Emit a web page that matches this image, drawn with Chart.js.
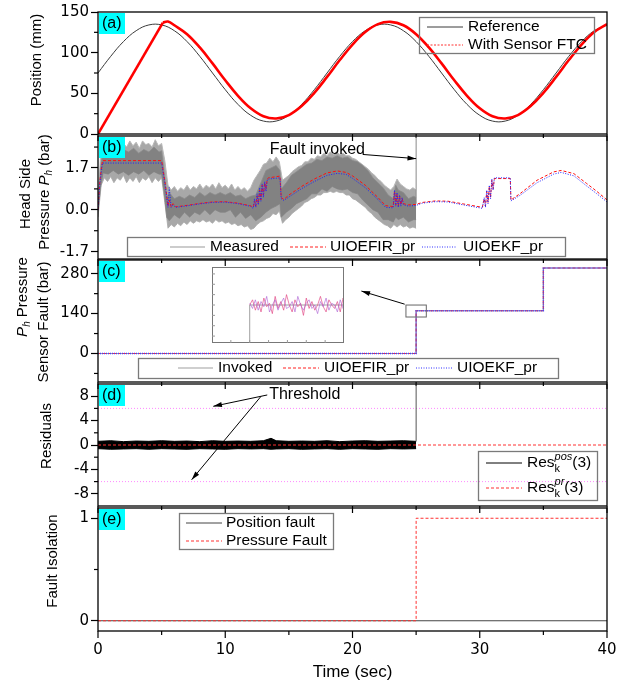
<!DOCTYPE html>
<html>
<head>
<meta charset="utf-8">
<script src="https://cdn.jsdelivr.net/npm/chart.js@4.4.1/dist/chart.umd.min.js"></script>
<style>
  html, body { margin: 0; padding: 0; background: #fff; }
  #wrap { position: relative; width: 636px; height: 687px; overflow: hidden; }
  canvas { position: absolute; left: 0; }
</style>
</head>
<body>
<div id="wrap">
  <canvas id="pa" width="636" height="145" style="top:0px"></canvas>
  <canvas id="pb" width="636" height="145" style="top:125px"></canvas>
  <canvas id="pc" width="636" height="144" style="top:249px"></canvas>
  <canvas id="inset" width="132" height="76" style="left:212px;top:267px"></canvas>
  <canvas id="pd" width="636" height="144" style="top:373px"></canvas>
  <canvas id="pe" width="636" height="190" style="top:497px"></canvas>
</div>
<script>
// ---------- time axis ----------
const timeTicks = [0, 10, 20, 30, 40];
const timeMinorTicks = [5, 15, 25, 35];

// ---------- (a) position tracking ----------
const timeA = [0,1,2,3,4,5,6,7,8,9,10,11,12,13,14,15,16,17,18,19,20,21,22,23,24,25,26,27,28,29,30,31,32,33,34,35,36,37,38,39,40];
const posReference = [75,95.5,113.6,127,134.1,134.1,127,113.6,95.5,75,54.5,36.4,23,15.9,15.9,23,36.4,54.5,75,95.5,113.6,127,134.1,134.1,127,113.6,95.5,75,54.5,36.4,23,15.9,15.9,23,36.4,54.5,75,95.5,113.6,127,134.1];
const ftcRampTime = [0, 5.1];
const ftcRamp = [0, 137];
const ftcTime = [5.1,5.5,6,7,8,9,10,11,12,13,14,15,16,17,18,19,20,21,22,23,24,25,26,27,28,29,30,31,32,33,34,35,36,37,38,39,40];
const posFtc = [137,138.2,133.7,122.7,106.4,86.8,66.1,47.0,31.6,21.9,19.1,23.3,34.3,50.6,70.2,90.9,110.0,125.4,135.1,137.9,133.7,122.7,106.4,86.8,66.1,47.0,31.6,21.9,19.1,23.3,34.3,50.6,70.2,90.9,110.0,125.4,135.1];

// ---------- (b) head side pressure ----------
// measured signal: spike envelope (outer) and dense core (inner)
const spikeTime = [0,0.25,0.5,0.75,1,1.25,1.5,1.75,2,2.25,2.5,2.75,3,3.25,3.5,3.75,4,4.25,4.5,4.75,5,5.25,5.5,5.75,6,6.25,6.5,6.75,7,7.25,7.5,7.75,8,8.25,8.5,8.75,9,9.25,9.5,9.75,10,10.25,10.5,10.75,11,11.25,11.5,11.75,12,12.25,12.5,12.75,13,13.25,13.5,13.75,14,14.25,14.5,14.75,15,15.25,15.5,15.75,16,16.25,16.5,16.75,17,17.25,17.5,17.75,18,18.25,18.5,18.75,19,19.25,19.5,19.75,20,20.25,20.5,20.75,21,21.25,21.5,21.75,22,22.25,22.5,22.75,23,23.25,23.5,23.75,24,24.25,24.5,24.75,25];
const spikeHigh = [0.3,2.7,2.8,2.6,2.75,2.55,2.85,2.6,2.7,2.55,2.8,2.6,2.75,2.5,2.8,2.65,2.7,2.55,2.85,2.6,2.7,2.0,1.0,0.8,0.95,0.75,0.9,0.8,1.0,0.8,0.95,0.85,1.05,0.85,1.0,0.9,1.05,0.85,1.1,0.9,1.0,0.85,1.05,0.8,0.95,0.8,0.9,0.75,0.9,1.2,1.4,1.6,1.85,1.9,2.1,1.95,2.15,1.95,1.2,1.3,1.4,1.55,1.65,1.75,1.8,1.95,1.95,2.1,2.05,2.2,2.15,2.3,2.2,2.35,2.25,2.35,2.25,2.3,2.2,2.2,2.1,2.05,1.95,1.85,1.75,1.65,1.5,1.4,1.25,1.15,1.0,0.9,0.8,0.95,1.25,1.05,0.95,0.85,0.8,0.9,0.8];
const spikeLow = [-0.3,1.0,1.3,1.15,1.35,1.1,1.3,1.2,1.4,1.1,1.3,1.15,1.35,1.1,1.3,1.2,1.35,1.1,1.3,1.15,1.3,0.3,-0.75,-0.6,-0.7,-0.55,-0.65,-0.5,-0.6,-0.45,-0.55,-0.45,-0.5,-0.4,-0.5,-0.45,-0.55,-0.4,-0.5,-0.45,-0.55,-0.5,-0.6,-0.55,-0.65,-0.6,-0.7,-0.65,-0.8,-0.75,-0.6,-0.5,-0.45,-0.35,-0.3,-0.15,-0.2,-0.05,-0.55,-0.4,-0.3,-0.15,-0.05,0.05,0.15,0.3,0.35,0.45,0.5,0.6,0.6,0.7,0.7,0.75,0.7,0.75,0.7,0.7,0.6,0.6,0.45,0.4,0.3,0.2,0.1,-0.05,-0.15,-0.3,-0.4,-0.5,-0.6,-0.65,-0.75,-0.6,-0.7,-0.6,-0.7,-0.65,-0.75,-0.7,-0.75];
const measTime = [0,0.2,0.4,0.8,1.2,1.6,2.0,2.4,2.8,3.2,3.6,4.0,4.4,4.8,5.0,5.2,5.4,5.6,6.0,6.4,6.8,7.2,7.6,8.0,8.4,8.8,9.2,9.6,10.0,10.4,10.8,11.2,11.6,12.0,12.4,12.8,13.2,13.6,14.0,14.3,14.4,14.8,15.2,15.6,16.0,16.4,16.8,17.2,17.6,18.0,18.4,18.8,19.2,19.6,20.0,20.4,20.8,21.2,21.6,22.0,22.4,22.8,23.2,23.4,23.6,24.0,24.4,24.8,25.0];
const measLow = [-0.05,0.9,1.5,1.45,1.6,1.45,1.55,1.4,1.55,1.45,1.6,1.4,1.55,1.45,1.45,0.7,-0.3,-0.45,-0.2,-0.35,-0.1,-0.3,-0.1,-0.2,0.0,-0.2,0.0,-0.1,-0.1,0.0,-0.3,-0.1,-0.35,-0.2,-0.45,-0.3,-0.1,0.05,0.15,0.25,-0.3,-0.1,0.05,0.25,0.35,0.45,0.65,0.65,0.85,0.75,0.95,0.85,0.8,0.85,0.7,0.65,0.4,0.2,0.0,-0.1,-0.4,-0.4,-0.5,-0.3,-0.4,-0.3,-0.5,-0.4,-0.4];
const measHigh = [0.05,1.7,2.45,2.35,2.5,2.3,2.45,2.35,2.5,2.3,2.45,2.35,2.55,2.35,2.4,1.5,0.5,0.7,0.45,0.55,0.45,0.6,0.5,0.7,0.55,0.7,0.6,0.7,0.6,0.7,0.55,0.6,0.45,0.55,0.6,1.1,1.6,1.7,1.8,1.6,0.85,1.1,1.4,1.55,1.7,1.85,1.9,2.05,2.0,2.15,2.1,2.2,2.1,2.15,2.0,1.95,1.8,1.6,1.3,1.1,0.9,0.6,0.45,1.0,0.8,0.7,0.45,0.55,0.5];
const measJumpTime = [25, 25];
const measJump = [0.25, 140];
const estTime = [0,0.15,0.35,5.0,5.3,5.5,5.6,5.75,5.9,6.1,7,8,9,10,11,12,12.2,12.3,12.4,12.5,12.6,12.7,12.8,12.9,13.0,13.1,13.2,13.3,13.4,14.3,14.4,14.6,15,16,17,18,18.8,19.5,20,21,22,22.6,23.2,23.3,23.4,23.5,23.6,23.7,23.8,23.9,24.0,24.4,25,25.5,26.5,27.5,28.7,30.2,30.35,30.45,30.55,30.65,30.75,30.85,30.95,31.05,31.15,32.4,32.45,33.2,34.5,35.8,36.4,37.4,38.4,39.2,40];
const uioefirPr = [0,1.2,2.0,2.0,1.0,0.15,0.4,0.12,0.25,0.12,0.18,0.26,0.32,0.33,0.27,0.16,0.1,0.35,0.15,0.55,0.25,0.8,0.4,1.0,0.6,1.1,0.85,1.25,1.3,1.37,0.5,0.42,0.6,0.95,1.25,1.5,1.58,1.52,1.38,1.0,0.5,0.17,0.13,0.75,0.2,0.65,0.15,0.55,0.2,0.45,0.25,0.2,0.22,0.3,0.36,0.35,0.24,0.1,0.45,0.15,0.75,0.3,0.95,0.5,1.2,0.85,1.27,1.27,0.4,0.67,1.2,1.54,1.6,1.47,1.07,0.75,0.4];
const uioekfPr = [0,1.1,1.9,1.9,0.9,0.1,0.9,0.1,0.2,0.1,0.16,0.24,0.3,0.31,0.25,0.14,0.05,0.45,0.1,0.65,0.2,0.9,0.35,1.05,0.5,1.15,0.75,1.2,1.25,1.3,0.45,0.38,0.52,0.86,1.15,1.4,1.48,1.44,1.28,0.9,0.42,0.1,0.08,0.8,0.15,0.7,0.1,0.6,0.15,0.5,0.2,0.15,0.18,0.27,0.33,0.32,0.2,0.06,0.5,0.1,0.8,0.25,1.0,0.45,1.25,0.8,1.3,1.3,0.36,0.6,1.1,1.45,1.52,1.38,0.97,0.65,0.32];

// ---------- (c) sensor fault ----------
const faultTime = [0, 25, 35, 40];
const faultInvoked = [0, 150, 300, 300];
const faultUioefir = [0, 150, 300, 300];
const faultUioekf = [0, 150, 300, 300];
const zoomTime = [25.00,25.03,25.06,25.09,25.12,25.15,25.18,25.21,25.24,25.27,25.30,25.33,25.36,25.39,25.42,25.45,25.48,25.51,25.54,25.57,25.60,25.63,25.66,25.69,25.72,25.75,25.78,25.81,25.84,25.87,25.90,25.93,25.96,25.99,26.02,26.05];
const zoomUioefir = [150,153,147,152,146,154,149,151,145,155,148,152,147,156,150,146,153,149,151,144,154,148,152,147,150,155,149,146,153,150,148,152,146,154,149,151];
const zoomUioekf = [151,148,153,147,152,149,155,146,150,153,147,151,154,148,149,152,146,155,150,147,151,153,148,150,145,152,149,154,147,151,150,146,153,148,152,149];

// ---------- (d) residuals ----------
const resTime = [0,1,2,3,4,5,6,7,8,9,10,11,12,13,13.6,14,15,16,17,18,19,20,21,22,23,24,25];
const resPosHigh = [0.6,0.7,0.55,0.65,0.6,0.7,0.6,0.65,0.55,0.7,0.6,0.65,0.6,0.7,1.1,0.7,0.6,0.65,0.6,0.7,0.55,0.65,0.7,0.6,0.65,0.7,0.6];
const resPosLow = [-0.6,-0.7,-0.65,-0.6,-0.7,-0.6,-0.65,-0.7,-0.6,-0.65,-0.7,-0.6,-0.65,-0.6,-0.7,-0.65,-0.6,-0.7,-0.65,-0.6,-0.7,-0.6,-0.65,-0.7,-0.6,-0.65,-0.6];
const resPosJumpTime = [25, 25];
const resPosJump = [0.6, 60];
const resPrTime = [0, 40];
const resPr = [0, 0];
const thresholdTime = [0, 40];
const thresholdUpper = [6, 6];
const thresholdLower = [-6, -6];

// ---------- (e) fault isolation ----------
const positionFaultTime = [0, 40];
const positionFault = [0, 0];
const pressureFaultTime = [0, 25, 40];
const pressureFault = [0, 1, 1];

// ---------- shared styling ----------
const FONT = "'Liberation Sans', Arial, sans-serif";
const TICK_FONT = { family: "'DejaVu Sans', sans-serif", size: 15 };
const F16 = '16px ' + FONT, FL = '15.5px ' + FONT, F15 = '15px ' + FONT, I15 = 'italic 15px ' + FONT;
const S10 = '10px ' + FONT, I10 = 'italic 10px ' + FONT, S11 = '11px ' + FONT, I11 = 'italic 11px ' + FONT;

Chart.defaults.animation = false;
Chart.defaults.responsive = false;
Chart.defaults.maintainAspectRatio = false;
Chart.defaults.plugins.legend.display = false;
Chart.defaults.plugins.tooltip.enabled = false;
Chart.defaults.elements.point.radius = 0;
Chart.defaults.elements.line.borderWidth = 1;
Chart.defaults.color = '#000';
Chart.defaults.font.family = FONT;

function pts(xs, ys) { return xs.map((x, i) => ({ x: x, y: ys[i] })); }

function seg(ctx, x1, y1, x2, y2) { ctx.beginPath(); ctx.moveTo(x1, y1); ctx.lineTo(x2, y2); ctx.stroke(); }

function arrow(ctx, x1, y1, x2, y2) {
  ctx.strokeStyle = '#000'; ctx.fillStyle = '#000'; ctx.lineWidth = 1;
  seg(ctx, x1, y1, x2, y2);
  const ang = Math.atan2(y2 - y1, x2 - x1), h = 9;
  ctx.beginPath();
  ctx.moveTo(x2, y2);
  ctx.lineTo(x2 - h * Math.cos(ang - 0.28), y2 - h * Math.sin(ang - 0.28));
  ctx.lineTo(x2 - h * Math.cos(ang + 0.28), y2 - h * Math.sin(ang + 0.28));
  ctx.closePath(); ctx.fill();
}

// rich text: segments {t, f, dy, hold}; a held segment shares its x with the next one
function richRun(ctx, segs, x0, y, draw) {
  let x = x0, held = 0;
  for (const s of segs) {
    ctx.font = s.f || FL;
    const w = ctx.measureText(s.t).width;
    if (draw) ctx.fillText(s.t, x, y + (s.dy || 0));
    if (s.hold) { held = w; continue; }
    x += Math.max(w, held); held = 0;
  }
  return x - x0;
}
function richText(ctx, segs, x, y, rotated) {
  ctx.save();
  ctx.fillStyle = '#000'; ctx.textBaseline = 'middle'; ctx.textAlign = 'left';
  if (rotated) {
    ctx.translate(x, y); ctx.rotate(-Math.PI / 2);
    const w = richRun(ctx, segs, 0, 0, false);
    richRun(ctx, segs, -w / 2, 0, true);
  } else {
    richRun(ctx, segs, x, y, true);
  }
  ctx.restore();
}

function sample(ctx, x1, x2, y, style) {
  ctx.save();
  ctx.strokeStyle = style.color; ctx.lineWidth = style.width || 1;
  ctx.setLineDash(style.dash || []);
  seg(ctx, x1, y, x2, y);
  ctx.restore();
}

function legendBox(ctx, x1, y1, x2, y2) {
  ctx.save();
  ctx.strokeStyle = '#7a7a7a'; ctx.lineWidth = 1.3;
  ctx.strokeRect(x1 + 0.5, y1 + 0.5, x2 - x1, y2 - y1);
  ctx.restore();
}

const STYLE = {
  reference: { color: '#3a3a3a', width: 1 },
  ftc: { color: '#ff3030', width: 1, dash: [2, 1.5] },
  measured: { color: '#9a9a9a', width: 1.2 },
  fir: { color: '#ff2020', width: 1, dash: [3, 2] },
  kf: { color: '#3030ff', width: 1, dash: [1, 1.5] },
  invoked: { color: '#a0a0a0', width: 1.2 },
  resPos: { color: '#000', width: 1 },
  resPr: { color: '#ff3030', width: 1, dash: [3, 2] },
  posFault: { color: '#444', width: 1 },
  prFault: { color: '#ff3030', width: 1, dash: [3, 2] }
};

// frame, minor ticks, panel tag, axis title, legend and notes of one panel
function decorate(chart, cfg, top) {
  const ctx = chart.ctx, a = chart.chartArea, xs = chart.scales.x, ys = chart.scales.y;
  ctx.save();
  ctx.strokeStyle = '#000';
  ctx.lineWidth = 1.3;
  ctx.strokeRect(a.left, a.top, a.right - a.left, a.bottom - a.top);
  ctx.lineWidth = 1.2;
  cfg.yMinor.forEach(v => { const Y = ys.getPixelForValue(v); seg(ctx, a.left - 4, Y, a.left, Y); });
  timeTicks.forEach(v => { const X = xs.getPixelForValue(v); seg(ctx, X, a.bottom, X, a.bottom + 7); });
  timeMinorTicks.forEach(v => { const X = xs.getPixelForValue(v); seg(ctx, X, a.bottom, X, a.bottom + 4); });

  // panel tag
  ctx.fillStyle = '#00ffff';
  ctx.fillRect(a.left + 1, a.top + 1, 26, 21);
  ctx.fillStyle = '#000'; ctx.font = F16; ctx.textBaseline = 'middle'; ctx.textAlign = 'left';
  ctx.fillText(cfg.tag, a.left + 4, a.top + 12);

  // rotated axis title lines (page coordinates)
  cfg.title.forEach(l => richText(ctx, l.segs, l.x, l.y - top, true));

  // legend
  if (cfg.legend) {
    const L = cfg.legend;
    legendBox(ctx, L.box[0], L.box[1] - top, L.box[2], L.box[3] - top);
    L.items.forEach(it => {
      sample(ctx, it.s[0], it.s[1], it.y - top, it.style);
      richText(ctx, it.segs, it.tx, it.y - top, false);
    });
  }
  if (cfg.notes) cfg.notes(ctx, xs, ys);
  ctx.restore();
}

function makePanel(id, cfg) {
  const canvas = document.getElementById(id);
  const top = parseFloat(canvas.style.top);
  return new Chart(canvas, {
    type: 'line',
    data: { datasets: cfg.datasets },
    options: {
      layout: { padding: { left: 0, right: 29, top: cfg.padTop, bottom: cfg.padBottom } },
      scales: {
        x: {
          type: 'linear', min: 0, max: 40, display: !!cfg.showX,
          afterFit: s => { s.height = cfg.showX ? 56 : 0; },
          afterBuildTicks: s => { s.ticks = timeTicks.map(v => ({ value: v })); },
          ticks: { font: TICK_FONT, color: '#000', padding: 3, maxRotation: 0, callback: v => String(v) },
          grid: { display: false, tickLength: 7 },
          border: { display: false },
          title: { display: true, text: 'Time (sec)', color: '#000', font: { family: FONT, size: 17 }, padding: { top: 0, bottom: 4 } }
        },
        y: {
          type: 'linear', min: cfg.yMin, max: cfg.yMax,
          afterFit: s => { s.width = 98; },
          afterBuildTicks: s => { s.ticks = cfg.yTicks.map(v => ({ value: v })); },
          ticks: { font: TICK_FONT, color: '#000', padding: 2, callback: cfg.yFmt || (v => String(v)) },
          grid: { drawOnChartArea: false, drawTicks: true, tickLength: 7, tickColor: '#000', tickWidth: 1.2 },
          border: { display: false }
        }
      }
    },
    plugins: [{ id: 'decor', afterDatasetsDraw(chart) { decorate(chart, cfg, top); } }]
  });
}

// ---------- (a) ----------
makePanel('pa', {
  tag: '(a)', padTop: 12, padBottom: 10,
  yMin: 0, yMax: 150, yTicks: [0, 50, 100, 150], yMinor: [25, 75, 125],
  datasets: [
    { data: pts(ftcTime, posFtc), borderColor: '#ff0000', borderWidth: 2.6, tension: 0.4 },
    { data: pts(ftcRampTime, ftcRamp), borderColor: '#ff0000', borderWidth: 2.6 },
    { data: pts(timeA, posReference), borderColor: '#3a3a3a', borderWidth: 1, tension: 0.4 }
  ],
  title: [{ x: 37, y: 60, segs: [{ t: 'Position (mm)', f: F15 }] }],
  legend: {
    box: [419, 17, 594, 53],
    items: [
      { y: 27, s: [427, 463], style: STYLE.reference, tx: 468, segs: [{ t: 'Reference' }] },
      { y: 45, s: [427, 463], style: STYLE.ftc, tx: 468, segs: [{ t: 'With Sensor FTC' }] }
    ]
  }
});

// ---------- (b) ----------
makePanel('pb', {
  tag: '(b)', padTop: 10, padBottom: 11,
  yMin: -2.0, yMax: 3.0, yTicks: [-1.7, 0, 1.7], yMinor: [-0.85, 0.85, 2.55],
  yFmt: v => v.toFixed(1),
  datasets: [
    { data: pts(estTime, uioekfPr), borderColor: '#2020ff', borderWidth: 1, borderDash: [1, 1.5] },
    { data: pts(estTime, uioefirPr), borderColor: '#ff1010', borderWidth: 1, borderDash: [3, 2] },
    { data: pts(measJumpTime, measJump), borderColor: '#8a8a8a', borderWidth: 1 },
    { data: pts(measTime, measHigh), borderColor: '#8a8a8a', borderWidth: 0.8, fill: '+1', backgroundColor: '#828282' },
    { data: pts(measTime, measLow), borderColor: '#8a8a8a', borderWidth: 0.8 },
    { data: pts(spikeTime, spikeHigh), borderColor: '#b8b8b8', borderWidth: 1, fill: '+1', backgroundColor: '#a8a8a8' },
    { data: pts(spikeTime, spikeLow), borderColor: '#b8b8b8', borderWidth: 1 }
  ],
  title: [
    { x: 26, y: 194, segs: [{ t: 'Head Side', f: F15 }] },
    { x: 45, y: 192, segs: [{ t: 'Pressure ', f: F15 }, { t: 'P', f: I15 }, { t: 'h', f: I10, dy: 4 }, { t: ' (bar)', f: F15 }] }
  ],
  legend: {
    box: [127, 237, 565, 256],
    items: [
      { y: 247, s: [170, 205], style: STYLE.measured, tx: 210, segs: [{ t: 'Measured' }] },
      { y: 247, s: [290, 326], style: STYLE.fir, tx: 330, segs: [{ t: 'UIOEFIR_pr' }] },
      { y: 247, s: [422, 457], style: STYLE.kf, tx: 463, segs: [{ t: 'UIOEKF_pr' }] }
    ]
  },
  notes(ctx, xs, ys) {
    ctx.font = F16; ctx.fillStyle = '#000'; ctx.textBaseline = 'middle'; ctx.textAlign = 'left';
    ctx.fillText('Fault invoked', xs.getPixelForValue(13.5), ys.getPixelForValue(2.45));
    arrow(ctx, xs.getPixelForValue(20.8), ys.getPixelForValue(2.25), xs.getPixelForValue(25.0), ys.getPixelForValue(2.08));
  }
});

// ---------- (c) ----------
makePanel('pc', {
  tag: '(c)', padTop: 10, padBottom: 10,
  yMin: -100, yMax: 328, yTicks: [0, 140, 280], yMinor: [-70, 70, 210],
  datasets: [
    { data: pts(faultTime, faultUioekf), borderColor: '#4040ff', borderWidth: 1.4, borderDash: [1, 1], stepped: 'before' },
    { data: pts(faultTime, faultUioefir), borderColor: '#ff3030', borderWidth: 1.2, borderDash: [3, 2], stepped: 'before' },
    { data: pts(faultTime, faultInvoked), borderColor: '#a0a0a0', borderWidth: 1.2, stepped: 'before' }
  ],
  title: [
    { x: 23, y: 297, segs: [{ t: 'P', f: I15 }, { t: 'h', f: I10, dy: 4 }, { t: ' Pressure', f: F15 }] },
    { x: 44, y: 322, segs: [{ t: 'Sensor Fault (bar)', f: F15 }] }
  ],
  legend: {
    box: [138, 358, 558, 378],
    items: [
      { y: 368, s: [178, 213], style: STYLE.invoked, tx: 218, segs: [{ t: 'Invoked' }] },
      { y: 368, s: [283, 319], style: STYLE.fir, tx: 324, segs: [{ t: 'UIOEFIR_pr' }] },
      { y: 368, s: [416, 452], style: STYLE.kf, tx: 457, segs: [{ t: 'UIOEKF_pr' }] }
    ]
  },
  notes(ctx, xs, ys) {
    ctx.strokeStyle = '#666'; ctx.lineWidth = 1;
    const x1 = xs.getPixelForValue(24.2), x2 = xs.getPixelForValue(25.8);
    const y1 = ys.getPixelForValue(170), y2 = ys.getPixelForValue(128);
    ctx.strokeRect(x1, y1, x2 - x1, y2 - y1);
    arrow(ctx, xs.getPixelForValue(24.1), ys.getPixelForValue(173), xs.getPixelForValue(20.7), ys.getPixelForValue(219));
  }
});

// zoomed view of the fault onset
new Chart(document.getElementById('inset'), {
  type: 'line',
  data: {
    datasets: [
      { data: pts(zoomTime, zoomUioekf), borderColor: 'rgba(170,90,210,0.75)', borderWidth: 0.8 },
      { data: pts(zoomTime, zoomUioefir), borderColor: 'rgba(225,70,130,0.85)', borderWidth: 0.8 },
      { data: pts(faultTime, faultInvoked), borderColor: '#a0a0a0', borderWidth: 1, stepped: 'before' }
    ]
  },
  options: {
    layout: { padding: 0 },
    scales: {
      x: { type: 'linear', min: 24.6, max: 26.0, display: false },
      y: { type: 'linear', min: 128, max: 172, display: false }
    }
  },
  plugins: [{
    id: 'insetFrame',
    afterDatasetsDraw(chart) {
      const ctx = chart.ctx, a = chart.chartArea, xs = chart.scales.x, ys = chart.scales.y;
      ctx.save();
      ctx.strokeStyle = '#777'; ctx.lineWidth = 1;
      ctx.strokeRect(a.left + 0.5, a.top + 0.5, a.right - a.left - 1, a.bottom - a.top - 1);
      ctx.strokeStyle = '#999';
      [132, 138, 144, 150, 156, 162, 168].forEach(v => { const Y = ys.getPixelForValue(v); seg(ctx, a.left, Y, a.left + 3, Y); });
      [24.8, 25.0, 25.2, 25.4, 25.6, 25.8].forEach(v => { const X = xs.getPixelForValue(v); seg(ctx, X, a.bottom, X, a.bottom - 3); });
      ctx.restore();
    }
  }]
});

// ---------- (d) ----------
makePanel('pd', {
  tag: '(d)', padTop: 10, padBottom: 10,
  yMin: -10, yMax: 10, yTicks: [-8, -4, 0, 4, 8], yMinor: [-6, -2, 2, 6],
  datasets: [
    { data: pts(resPrTime, resPr), borderColor: '#ff3030', borderWidth: 1, borderDash: [3, 2] },
    { data: pts(resPosJumpTime, resPosJump), borderColor: '#555', borderWidth: 1 },
    { data: pts(resTime, resPosHigh), borderColor: '#000', borderWidth: 1, fill: '+1', backgroundColor: '#000' },
    { data: pts(resTime, resPosLow), borderColor: '#000', borderWidth: 1 },
    { data: pts(thresholdTime, thresholdUpper), borderColor: '#ff88ff', borderWidth: 1, borderDash: [1, 2] },
    { data: pts(thresholdTime, thresholdLower), borderColor: '#ff88ff', borderWidth: 1, borderDash: [1, 2] }
  ],
  title: [{ x: 47, y: 436, segs: [{ t: 'Residuals', f: F15 }] }],
  legend: {
    box: [478, 451, 597, 500],
    items: [
      { y: 463, s: [486, 522], style: STYLE.resPos, tx: 527,
        segs: [{ t: 'Res' }, { t: 'k', f: S11, dy: 6, hold: true }, { t: 'pos', f: I11, dy: -6 }, { t: '(3)' }] },
      { y: 488, s: [486, 522], style: STYLE.resPr, tx: 527,
        segs: [{ t: 'Res' }, { t: 'k', f: S11, dy: 6, hold: true }, { t: 'pr', f: I11, dy: -6 }, { t: '(3)' }] }
    ]
  },
  notes(ctx, xs, ys) {
    ctx.font = F16; ctx.fillStyle = '#000'; ctx.textBaseline = 'middle'; ctx.textAlign = 'left';
    ctx.fillText('Threshold', xs.getPixelForValue(13.45), ys.getPixelForValue(8.24));
    arrow(ctx, xs.getPixelForValue(13.3), ys.getPixelForValue(8.2), xs.getPixelForValue(9.06), ys.getPixelForValue(6.34));
    arrow(ctx, xs.getPixelForValue(12.8), ys.getPixelForValue(7.95), xs.getPixelForValue(7.36), ys.getPixelForValue(-5.69));
  }
});

// ---------- (e) ----------
makePanel('pe', {
  tag: '(e)', padTop: 10, padBottom: 0, showX: true,
  yMin: -0.1, yMax: 1.1, yTicks: [0, 1], yMinor: [0.5],
  datasets: [
    { data: pts(pressureFaultTime, pressureFault), borderColor: '#ff3030', borderWidth: 1, borderDash: [3, 2], stepped: 'before' },
    { data: pts(positionFaultTime, positionFault), borderColor: '#444', borderWidth: 1 }
  ],
  title: [{ x: 53, y: 561, segs: [{ t: 'Fault Isolation', f: F15 }] }],
  legend: {
    box: [179, 513, 333, 549],
    items: [
      { y: 523, s: [186, 222], style: STYLE.posFault, tx: 226, segs: [{ t: 'Position fault' }] },
      { y: 541, s: [186, 222], style: STYLE.prFault, tx: 226, segs: [{ t: 'Pressure Fault' }] }
    ]
  }
});
</script>
</body>
</html>
